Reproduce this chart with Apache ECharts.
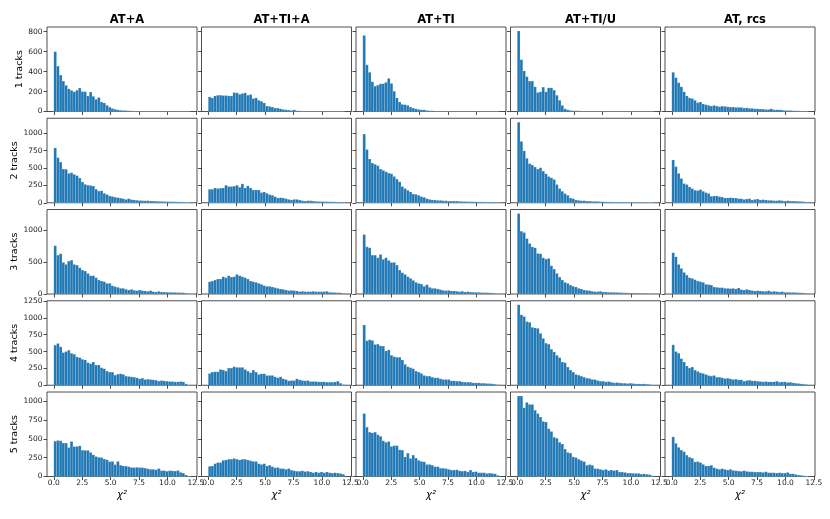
<!DOCTYPE html>
<html>
<head>
<meta charset="utf-8">
<title>chi2 per track count</title>
<script src="https://cdn.jsdelivr.net/npm/echarts@6/dist/echarts.min.js"></script>
<style>
	html, body { margin: 0; padding: 0; background: #fff; }
	#chart { width: 830px; height: 519px; }
</style>
</head>
<body>
<div id="chart"></div>
<script>
	// 直方图计数, 50 个区间, 0 到 12
	var AT_A_1 = [600, 455, 365, 305, 262, 227, 212, 197, 213, 235, 200, 198, 155, 195, 152, 122, 140, 95, 85, 62, 44, 30, 22, 16, 12, 10, 9, 7, 6, 5, 4, 4, 3, 3, 3, 2, 2, 2, 2, 2, 2, 2, 2, 1, 4, 1, 1, 1, 1, 0];
	var AT_TI_A_1 = [146, 136, 156, 163, 163, 160, 160, 156, 156, 190, 187, 173, 180, 187, 163, 170, 129, 136, 112, 102, 85, 54, 51, 44, 34, 34, 27, 20, 17, 14, 10, 17, 7, 6, 5, 5, 4, 4, 3, 3, 3, 3, 2, 2, 2, 2, 2, 1, 1, 1];
	var AT_TI_1 = [763, 468, 393, 298, 254, 264, 278, 278, 292, 332, 281, 203, 136, 95, 71, 68, 61, 44, 34, 27, 20, 17, 17, 10, 7, 7, 4, 3, 3, 3, 2, 2, 2, 2, 1, 1, 1, 1, 1, 1, 1, 1, 1, 1, 1, 0, 0, 0, 0, 0];
	var AT_TI_U_1 = [807, 519, 407, 349, 305, 305, 247, 190, 197, 244, 197, 237, 237, 214, 163, 112, 61, 27, 17, 10, 7, 7, 7, 3, 3, 2, 2, 2, 1, 1, 1, 1, 1, 1, 1, 1, 1, 0, 0, 0, 0, 0, 0, 0, 0, 0, 0, 0, 0, 0];
	var AT_RCS_1 = [393, 339, 288, 247, 197, 156, 136, 129, 112, 88, 95, 75, 68, 61, 54, 61, 54, 47, 54, 51, 47, 44, 44, 41, 41, 41, 34, 37, 31, 31, 27, 27, 24, 24, 20, 20, 27, 17, 17, 17, 14, 10, 10, 10, 7, 7, 6, 5, 5, 4];

	var AT_A_2 = [790, 650, 585, 485, 482, 422, 432, 408, 390, 355, 300, 265, 253, 248, 240, 195, 168, 172, 135, 118, 98, 90, 80, 73, 66, 58, 47, 58, 45, 40, 35, 32, 30, 28, 30, 25, 24, 22, 20, 20, 17, 16, 15, 15, 13, 12, 12, 10, 6, 3];
	var AT_TI_A_2 = [194, 194, 213, 204, 209, 213, 252, 233, 233, 238, 252, 223, 272, 213, 243, 213, 184, 184, 184, 146, 155, 136, 116, 107, 87, 68, 73, 68, 58, 48, 39, 48, 48, 39, 29, 24, 29, 29, 24, 19, 18, 17, 16, 15, 14, 13, 12, 11, 10, 5];
	var AT_TI_2 = [989, 766, 630, 572, 553, 534, 485, 466, 446, 427, 417, 378, 340, 301, 233, 204, 180, 155, 126, 121, 107, 87, 78, 58, 48, 39, 39, 34, 34, 29, 29, 24, 24, 24, 24, 19, 18, 17, 15, 15, 14, 13, 12, 12, 11, 10, 10, 9, 8, 6];
	var AT_TI_U_2 = [1159, 883, 747, 640, 563, 543, 514, 485, 504, 456, 417, 378, 359, 335, 262, 204, 165, 131, 107, 68, 58, 39, 34, 29, 29, 24, 24, 19, 19, 19, 15, 14, 12, 12, 10, 10, 9, 8, 8, 7, 7, 6, 6, 5, 5, 5, 4, 4, 3, 3];
	var AT_RCS_2 = [616, 519, 422, 349, 276, 262, 228, 204, 180, 175, 189, 165, 146, 131, 92, 97, 97, 87, 82, 68, 68, 73, 68, 68, 58, 58, 48, 53, 58, 39, 48, 53, 39, 44, 39, 34, 34, 29, 29, 34, 29, 24, 29, 24, 24, 22, 20, 18, 15, 10];

	var AT_A_3 = [755, 608, 629, 494, 463, 515, 530, 463, 452, 411, 374, 359, 322, 286, 286, 255, 218, 203, 192, 166, 166, 130, 114, 104, 88, 88, 73, 62, 73, 57, 52, 62, 52, 47, 42, 52, 36, 31, 42, 31, 30, 28, 26, 25, 24, 22, 20, 20, 15, 8];
	var AT_TI_A_3 = [192, 203, 218, 234, 234, 270, 255, 286, 265, 270, 306, 286, 270, 255, 234, 203, 192, 182, 166, 151, 130, 120, 120, 109, 99, 88, 78, 73, 62, 52, 57, 52, 47, 36, 42, 36, 36, 36, 42, 36, 36, 36, 36, 42, 26, 25, 22, 20, 18, 10];
	var AT_TI_3 = [931, 738, 723, 608, 608, 567, 619, 541, 567, 525, 494, 494, 452, 374, 333, 306, 270, 244, 213, 182, 166, 156, 120, 146, 104, 88, 88, 78, 68, 57, 52, 57, 47, 47, 42, 36, 42, 31, 36, 30, 28, 26, 25, 22, 20, 20, 18, 15, 12, 8];
	var AT_TI_U_3 = [1260, 983, 962, 868, 790, 738, 723, 634, 629, 567, 546, 556, 442, 390, 322, 265, 218, 182, 166, 140, 120, 109, 88, 78, 62, 57, 52, 42, 36, 36, 42, 31, 31, 26, 26, 26, 24, 22, 20, 18, 17, 16, 15, 14, 13, 12, 11, 10, 8, 6];
	var AT_RCS_3 = [645, 582, 463, 400, 338, 296, 255, 244, 224, 203, 192, 182, 151, 146, 140, 109, 104, 99, 99, 88, 88, 83, 88, 78, 94, 68, 62, 73, 62, 52, 47, 52, 47, 42, 42, 52, 36, 42, 36, 31, 36, 26, 26, 25, 24, 22, 20, 18, 15, 10];

	var AT_A_4 = [595, 620, 570, 485, 500, 520, 475, 460, 420, 410, 385, 375, 335, 320, 345, 300, 300, 260, 245, 210, 195, 195, 150, 165, 170, 160, 135, 130, 125, 120, 110, 95, 105, 85, 90, 85, 80, 75, 60, 70, 65, 60, 55, 55, 50, 50, 55, 50, 20, 5];
	var AT_TI_A_4 = [175, 195, 200, 200, 235, 225, 210, 255, 255, 275, 265, 265, 265, 235, 210, 185, 225, 195, 160, 170, 170, 145, 145, 145, 125, 110, 125, 95, 85, 65, 70, 70, 95, 80, 70, 65, 70, 55, 55, 55, 50, 50, 50, 45, 45, 45, 48, 60, 30, 8];
	var AT_TI_4 = [895, 660, 675, 665, 605, 610, 585, 580, 510, 525, 445, 425, 415, 415, 375, 310, 275, 260, 245, 210, 195, 175, 145, 135, 135, 120, 110, 110, 95, 85, 85, 85, 65, 65, 60, 60, 50, 45, 45, 45, 35, 35, 35, 30, 30, 25, 25, 20, 15, 8];
	var AT_TI_U_4 = [1195, 1045, 1020, 945, 935, 860, 850, 845, 770, 695, 625, 610, 535, 495, 445, 410, 345, 335, 270, 225, 195, 160, 150, 135, 120, 105, 100, 85, 85, 70, 60, 60, 50, 55, 45, 35, 40, 35, 30, 30, 25, 30, 25, 20, 20, 18, 20, 15, 12, 5];
	var AT_RCS_4 = [600, 500, 475, 395, 345, 285, 255, 270, 225, 205, 185, 175, 160, 145, 135, 145, 120, 120, 110, 100, 105, 95, 85, 90, 80, 80, 60, 70, 75, 65, 65, 60, 55, 50, 55, 50, 50, 50, 60, 45, 50, 50, 40, 45, 35, 30, 25, 20, 15, 10];

	var AT_A_5 = [470, 480, 475, 445, 445, 385, 465, 398, 400, 408, 350, 348, 348, 320, 288, 265, 255, 252, 232, 222, 198, 200, 158, 200, 150, 140, 138, 130, 120, 118, 122, 118, 118, 112, 102, 95, 95, 90, 105, 78, 78, 70, 78, 75, 72, 80, 55, 45, 20, 5];
	var AT_TI_A_5 = [135, 140, 170, 185, 185, 215, 220, 230, 230, 240, 230, 220, 230, 230, 220, 210, 200, 200, 170, 160, 170, 140, 150, 130, 115, 120, 105, 105, 95, 105, 85, 75, 70, 70, 75, 65, 70, 60, 50, 60, 50, 60, 50, 60, 50, 45, 50, 45, 40, 30];
	var AT_TI_5 = [837, 657, 590, 580, 590, 555, 535, 475, 455, 465, 400, 410, 410, 355, 350, 260, 310, 240, 285, 245, 215, 200, 195, 160, 160, 150, 130, 130, 110, 110, 105, 95, 85, 85, 90, 75, 70, 75, 60, 85, 60, 65, 50, 50, 50, 40, 45, 40, 35, 15];
	var AT_TI_U_5 = [1071, 1071, 914, 986, 959, 959, 882, 837, 792, 734, 725, 635, 599, 522, 509, 455, 432, 365, 320, 311, 261, 252, 230, 212, 198, 149, 158, 149, 104, 104, 95, 86, 95, 77, 86, 77, 86, 59, 59, 54, 45, 45, 41, 41, 41, 32, 35, 30, 25, 10];
	var AT_RCS_5 = [527, 441, 387, 351, 329, 284, 257, 243, 194, 198, 185, 162, 140, 140, 149, 117, 104, 95, 104, 95, 86, 95, 81, 77, 72, 68, 77, 68, 63, 63, 59, 59, 59, 54, 63, 50, 50, 50, 45, 50, 45, 45, 54, 36, 36, 27, 18, 15, 10, 5];

	var columnTitles = ['AT+A', 'AT+TI+A', 'AT+TI', 'AT+TI/U', 'AT, rcs'];
	var rowTitles = ['1 tracks', '2 tracks', '3 tracks', '4 tracks', '5 tracks'];
	var counts = [
		[AT_A_1, AT_TI_A_1, AT_TI_1, AT_TI_U_1, AT_RCS_1],
		[AT_A_2, AT_TI_A_2, AT_TI_2, AT_TI_U_2, AT_RCS_2],
		[AT_A_3, AT_TI_A_3, AT_TI_3, AT_TI_U_3, AT_RCS_3],
		[AT_A_4, AT_TI_A_4, AT_TI_4, AT_TI_U_4, AT_RCS_4],
		[AT_A_5, AT_TI_A_5, AT_TI_5, AT_TI_U_5, AT_RCS_5]
	];
	var binLow = 0;
	var binHigh = 12;
	var xTicks = [0, 2.5, 5, 7.5, 10, 12.5];
	var yTicks = [
		[0, 200, 400, 600, 800],
		[0, 250, 500, 750, 1000],
		[0, 500, 1000],
		[0, 250, 500, 750, 1000, 1250],
		[0, 250, 500, 750, 1000]
	];

	// 布局
	var FONT = 'DejaVu Sans';
	var INK = '#222';
	var panelLeft = 47, panelStep = 154.5, panelWidth = 150;
	var panelTop = 27, rowStep = 91.25, panelHeight = 84.5;

	function renderBar(params, api) {
		var top = api.coord([api.value(0), api.value(2)]);
		var base = api.coord([api.value(1), 0]);
		return {
			type: 'rect',
			shape: {
				x: top[0],
				y: top[1],
				width: base[0] - top[0],
				height: base[1] - top[1]
			},
			style: {
				fill: '#1f77b4',
				stroke: 'rgba(255,255,255,0.3)',
				lineWidth: 0.5
			}
		};
	}

	var option = {
		animation: false,
		backgroundColor: '#fff',
		title: [],
		grid: [],
		xAxis: [],
		yAxis: [],
		series: []
	};

	//列标题
	columnTitles.forEach(function (t, c) {
		option.title.push({
			text: t,
			left: panelLeft + c * panelStep + panelWidth / 2,
			top: 9,
			textAlign: 'center',
			textStyle: {
				fontFamily: FONT,
				fontSize: 11.5,
				fontWeight: 'bold',
				color: '#000'
			}
		});
	});

	// 单个面板
	function addPanel(r, c, yMax) {
		var idx = r * 5 + c;
		var values = counts[r][c];
		var width = (binHigh - binLow) / values.length;
		var data = values.map(function (v, i) {
			return [binLow + i * width, binLow + (i + 1) * width, v];
		});
		var showX = r === 4;
		var showY = c === 0;

		option.grid.push({
			left: panelLeft + c * panelStep,
			top: panelTop + r * rowStep,
			width: panelWidth,
			height: panelHeight,
			show: true,
			borderColor: INK,
			borderWidth: 0.8,
			backgroundColor: 'transparent'
		});

		option.xAxis.push({
			type: 'value',
			gridIndex: idx,
			min: -0.6,
			max: 12.6,
			name: showX ? 'χ²' : '',
			nameLocation: 'middle',
			nameGap: 14,
			nameTextStyle: {
				fontFamily: FONT,
				fontSize: 10,
				fontStyle: 'italic',
				color: '#000'
			},
			splitLine: { show: false },
			axisLine: { show: false, onZero: false },
			axisTick: {
				show: true,
				length: 3.5,
				customValues: xTicks,
				lineStyle: { color: INK, width: 0.8 }
			},
			axisLabel: {
				show: true,
				customValues: xTicks,
				margin: 3,
				fontFamily: FONT,
				fontSize: 7.5,
				color: INK,
				formatter: function (v) { return showX ? v.toFixed(1) : ''; }
			}
		});

		option.yAxis.push({
			type: 'value',
			gridIndex: idx,
			min: 0,
			max: yMax,
			name: showY ? rowTitles[r] : '',
			nameLocation: 'middle',
			nameRotate: 90,
			nameGap: 2,
			nameTextStyle: {
				fontFamily: FONT,
				fontSize: 9.5,
				color: '#000'
			},
			splitLine: { show: false },
			// x 轴含 0, 不让 y 轴贴到 x=0 上
			axisLine: { show: false, onZero: false },
			axisTick: {
				show: true,
				length: 3.5,
				customValues: yTicks[r],
				lineStyle: { color: INK, width: 0.8 }
			},
			axisLabel: {
				show: true,
				customValues: yTicks[r],
				margin: 4.5,
				fontFamily: FONT,
				fontSize: 7.5,
				color: INK,
				formatter: function (v) { return showY ? String(v) : ''; }
			}
		});

		option.series.push({
			type: 'custom',
			xAxisIndex: idx,
			yAxisIndex: idx,
			renderItem: renderBar,
			encode: { x: [0, 1], y: 2 },
			data: data
		});
	}

	for (var r = 0; r < 5; r++) {
		// 每行共享 y 轴范围
		var rowMax = 0;
		for (var k = 0; k < 5; k++) {
			rowMax = Math.max(rowMax, Math.max.apply(null, counts[r][k]));
		}
		for (var c = 0; c < 5; c++) {
			addPanel(r, c, rowMax * 1.05);
		}
	}

	var chart = echarts.init(document.getElementById('chart'));
	chart.setOption(option);
</script>
</body>
</html>
